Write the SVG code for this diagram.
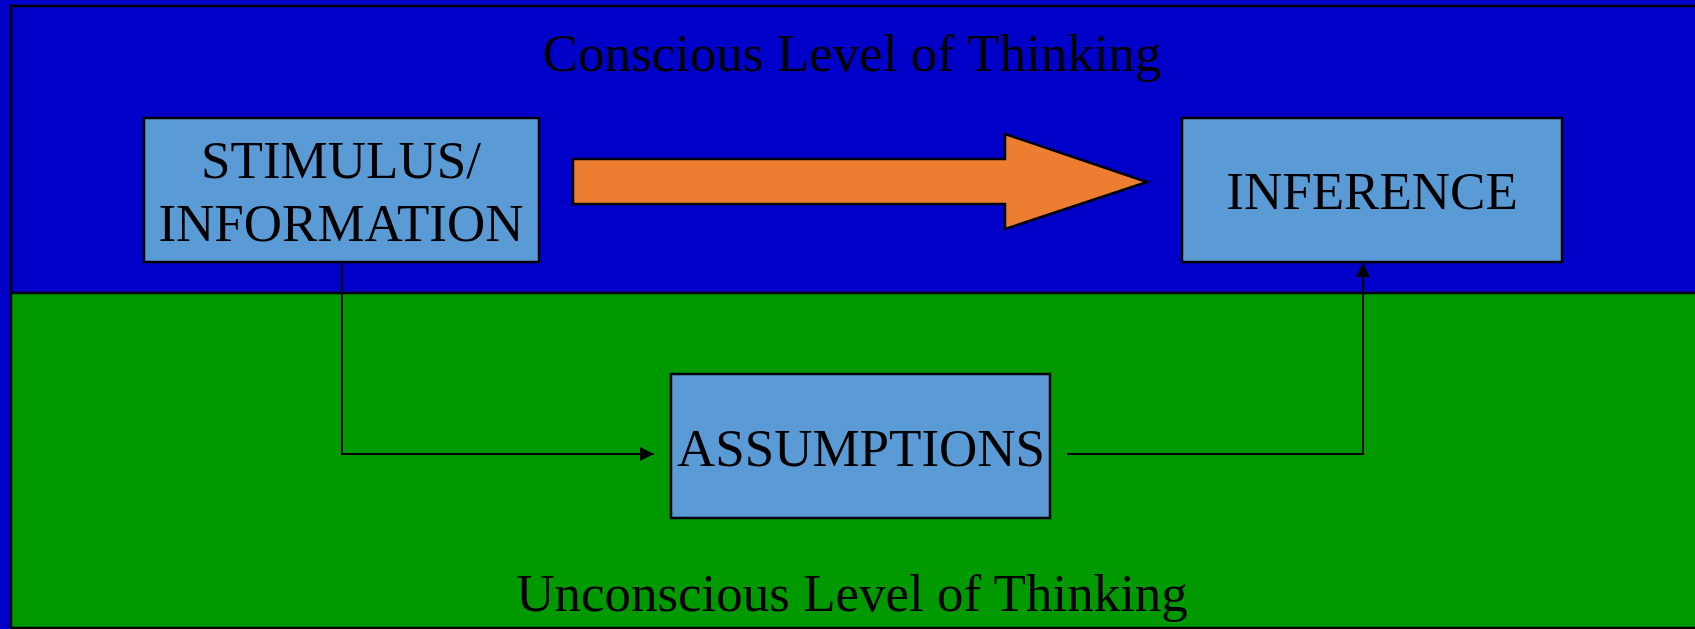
<svg xmlns="http://www.w3.org/2000/svg" width="1695" height="629" viewBox="0 0 1695 629">
<defs>
<style>
.box{fill:#5B9BD5;stroke:#000;stroke-width:2.5}
.t{font-family:"Liberation Serif","Times New Roman",serif;font-size:53px;fill:#000;text-anchor:middle}
.c{fill:none;stroke:#000;stroke-width:2}
</style>
<marker id="ah" viewBox="0 0 10 10" refX="10" refY="5" markerWidth="7" markerHeight="7" orient="auto" markerUnits="strokeWidth">
<path d="M0,0 L10,5 L0,10 z" fill="#000"/>
</marker>
</defs>
<rect x="0" y="0" width="1695" height="629" fill="#0000C8"/>
<rect x="12" y="294" width="1690" height="334" fill="#009900"/>
<rect x="11" y="6" width="1700" height="622" fill="none" stroke="#000" stroke-width="2.5"/>
<line x1="11" y1="293" x2="1695" y2="293" stroke="#000" stroke-width="2.5"/>
<text class="t" x="852" y="71">Conscious Level of Thinking</text>
<text class="t" x="852" y="611">Unconscious Level of Thinking</text>
<g id="connectors">
<polygon points="573,159 1005,159 1005,134 1147,182 1005,229 1005,204 573,204" fill="#ED7D31" stroke="#000" stroke-width="2.5"/>
<polyline class="c" points="342,262 342,454 654,454" marker-end="url(#ah)"/>
<polyline class="c" points="1067,454 1363,454 1363,263" marker-end="url(#ah)"/>
</g>
<g id="stimulus">
<rect class="box" x="144" y="118" width="395" height="144"/>
<text class="t" x="341" y="178">STIMULUS/</text>
<text class="t" x="341" y="241">INFORMATION</text>
</g>
<g id="inference">
<rect class="box" x="1182" y="118" width="380" height="144"/>
<text class="t" x="1372" y="209">INFERENCE</text>
</g>
<g id="assumptions">
<rect class="box" x="671" y="374" width="379" height="144"/>
<text class="t" x="861" y="466">ASSUMPTIONS</text>
</g>
</svg>
